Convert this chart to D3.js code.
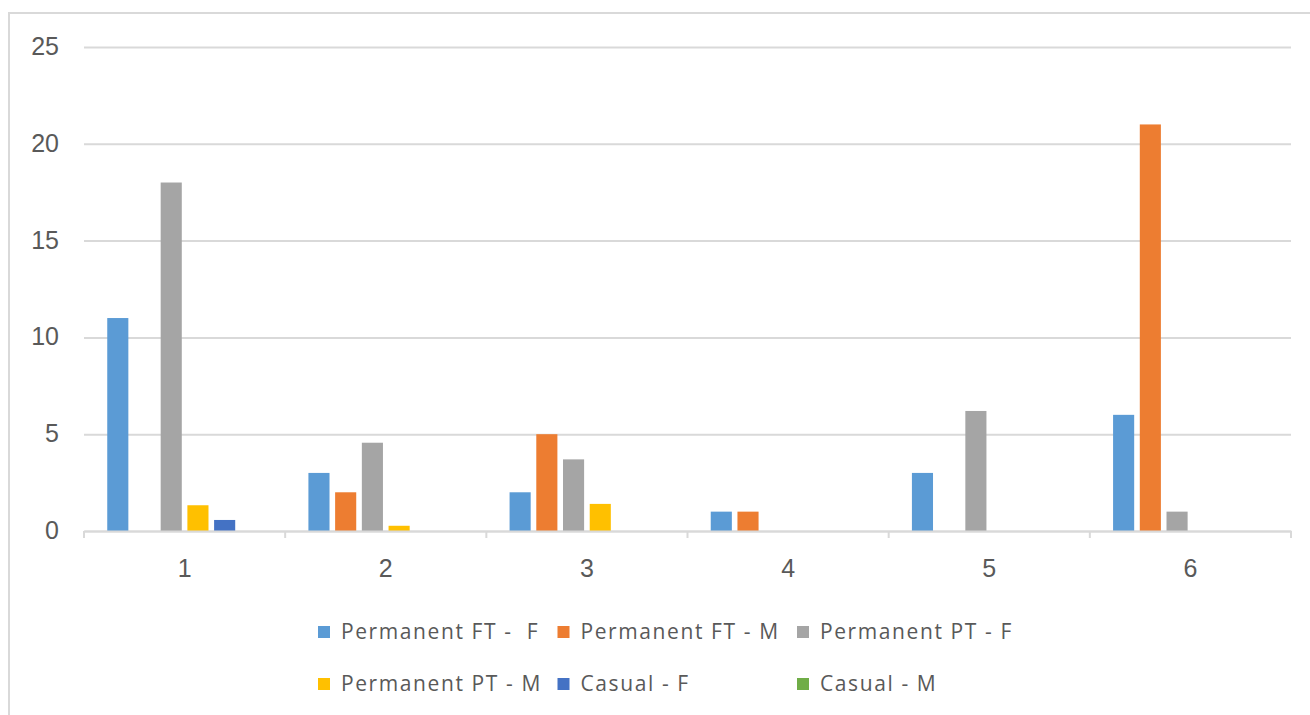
<!DOCTYPE html>
<html>
<head>
<meta charset="utf-8">
<script src="https://cdn.jsdelivr.net/npm/d3@7/dist/d3.min.js"></script>
<style>
  html, body { margin: 0; padding: 0; background: #fff; }
  svg { display: block; font-family: "Open Sans", "Liberation Sans", sans-serif; }
</style>
</head>
<body>
<svg id="chart" width="1310" height="715"></svg>
<script>
// Categories along the x axis
const categories = ["1", "2", "3", "4", "5", "6"];

// Series names (legend order) and colours
const seriesNames = [
  "Permanent FT -  F",
  "Permanent FT - M",
  "Permanent PT - F",
  "Permanent PT - M",
  "Casual - F",
  "Casual - M"
];
const seriesColors = ["#5B9BD5", "#ED7D31", "#A5A5A5", "#FFC000", "#4472C4", "#70AD47"];

// Values per series, one per category
const permFT_F = [11, 3, 2, 1, 3, 6];
const permFT_M = [0, 2, 5, 1, 0, 21];
const permPT_F = [18, 4.56, 3.7, 0, 6.2, 1];
const permPT_M = [1.33, 0.27, 1.4, 0, 0, 0];
const casual_F = [0.57, 0, 0, 0, 0, 0];
const casual_M = [0, 0, 0, 0, 0, 0];
const seriesValues = [permFT_F, permFT_M, permPT_F, permPT_M, casual_F, casual_M];

// Y axis tick values
const yTicks = [0, 5, 10, 15, 20, 25];

const svg = d3.select("#chart");
const textColor = "#595959";
const gridColor = "#d9d9d9";

// Outer chart frame (continues past the right and bottom edges)
svg.append("path")
  .attr("d", "M9,715 L9,13 L1312,13")
  .attr("fill", "none")
  .attr("stroke", gridColor)
  .attr("stroke-width", 2);

const plot = { left: 84, right: 1291, top: 47, bottom: 531 };

const x0 = d3.scaleBand()
  .domain(categories)
  .range([plot.left, plot.right])
  .paddingInner(0)
  .paddingOuter(0);

const x1 = d3.scaleBand()
  .domain(d3.range(seriesNames.length))
  .range([0, x0.bandwidth()])
  .paddingInner(0.21)
  .paddingOuter(0.87);

const y = d3.scaleLinear()
  .domain([0, 25])
  .range([plot.bottom, plot.top]);

// Horizontal gridlines + y labels
const yAxis = svg.append("g")
  .attr("transform", `translate(${plot.left},0)`)
  .call(d3.axisLeft(y)
    .tickValues(yTicks)
    .tickSize(-(plot.right - plot.left))
    .tickPadding(25)
    .tickFormat(d3.format("d")));
yAxis.select(".domain").remove();
yAxis.selectAll(".tick line")
  .attr("stroke", gridColor)
  .attr("stroke-width", 2);
yAxis.selectAll(".tick text")
  .attr("fill", textColor)
  .style("font-size", "25px")
  .attr("dy", "0.3em");

// Bars
const groups = svg.append("g")
  .selectAll("g")
  .data(categories)
  .join("g")
  .attr("transform", d => `translate(${x0(d)},0)`);

groups.selectAll("rect")
  .data((c, ci) => seriesValues.map((vals, si) => ({ si, v: vals[ci] })))
  .join("rect")
  .attr("x", d => x1(d.si))
  .attr("width", x1.bandwidth())
  .attr("y", d => y(d.v))
  .attr("height", d => y(0) - y(d.v))
  .attr("fill", d => seriesColors[d.si]);

// X axis
const xAxis = svg.append("g")
  .attr("transform", `translate(0,${plot.bottom})`)
  .call(d3.axisBottom(x0).tickSize(0).tickPadding(28));
xAxis.select(".domain")
  .attr("stroke", gridColor)
  .attr("stroke-width", 2);
xAxis.selectAll(".tick text")
  .attr("fill", textColor)
  .style("font-size", "25px");

// Tick marks between categories
const boundaries = categories.map(c => x0(c)).concat([x0.range()[1]]);
xAxis.selectAll("line.sep")
  .data(boundaries)
  .join("line")
  .attr("class", "sep")
  .attr("x1", d => d).attr("x2", d => d)
  .attr("y1", 0).attr("y2", 7)
  .attr("stroke", gridColor)
  .attr("stroke-width", 2);

// Legend: three columns, two rows
const legendX = 318, legendColStep = 239.5;
const legendY = 625, legendRowStep = 52;
const legend = svg.append("g");
const items = legend.selectAll("g")
  .data(seriesNames.map((name, i) => ({ name, i })))
  .join("g")
  .attr("transform", d => `translate(${legendX + (d.i % 3) * legendColStep},${legendY + Math.floor(d.i / 3) * legendRowStep})`);
items.append("rect")
  .attr("width", 12)
  .attr("height", 12)
  .attr("y", 1)
  .attr("fill", d => seriesColors[d.i]);
items.append("text")
  .attr("x", 23)
  .attr("y", 14)
  .attr("fill", textColor)
  .style("font-size", "21px")
  .style("letter-spacing", "1.6px")
  .style("white-space", "pre")
  .text(d => d.name);
</script>
</body>
</html>
